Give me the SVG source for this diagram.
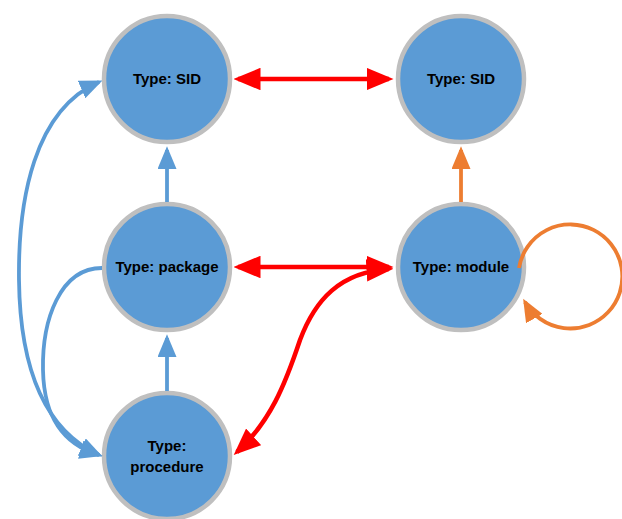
<svg xmlns="http://www.w3.org/2000/svg" width="622" height="519" viewBox="0 0 622 519">
<defs>
<marker id="ahr" viewBox="0 0 6 5" refX="5" refY="2.5" markerWidth="6" markerHeight="5" markerUnits="strokeWidth" orient="auto-start-reverse">
<path d="M0 0 L6 2.5 L0 5 Z" fill="#FF0000"/>
</marker>
<marker id="ahb" viewBox="0 0 6 5" refX="5" refY="2.5" markerWidth="6" markerHeight="5" markerUnits="strokeWidth" orient="auto-start-reverse">
<path d="M0 0 L6 2.5 L0 5 Z" fill="#5B9BD5"/>
</marker>
<marker id="aho" viewBox="0 0 6 5" refX="5" refY="2.5" markerWidth="6" markerHeight="5" markerUnits="strokeWidth" orient="auto-start-reverse">
<path d="M0 0 L6 2.5 L0 5 Z" fill="#ED7D31"/>
</marker>
</defs>
<style>
.node circle{fill:#5B9BD5;stroke:#BFBFBF;stroke-width:4.5}
.node text{font-family:"Liberation Sans",Arial,sans-serif;font-weight:bold;font-size:15px;fill:#000;text-anchor:middle}
.red{fill:none;stroke:#FF0000;stroke-width:4.5}
.blue{fill:none;stroke:#5B9BD5;stroke-width:3.8}
.orange{fill:none;stroke:#ED7D31;stroke-width:3.8}
</style>
<g id="nodes">
<g id="sid1" class="node"><circle cx="167" cy="79" r="63"/><text x="167" y="84">Type: SID</text></g>
<g id="sid2" class="node"><circle cx="461" cy="79" r="63"/><text x="461" y="84">Type: SID</text></g>
<g id="package" class="node"><circle cx="167" cy="267" r="63"/><text x="167" y="272">Type: package</text></g>
<g id="module" class="node"><circle cx="461" cy="267" r="63"/><text x="461" y="272">Type: module</text></g>
<g id="procedure" class="node"><circle cx="167" cy="456" r="63"/><text x="167" y="451">Type:</text><text x="167" y="472">procedure</text></g>
</g>
<g id="connectors">
<path class="red" d="M238 79 L389 79" marker-start="url(#ahr)" marker-end="url(#ahr)"/>
<path class="red" d="M238 267 L389 267" marker-start="url(#ahr)" marker-end="url(#ahr)"/>
<path class="red" d="M389 269 C340 272 315 300 300 340 C285 385 270 422 237 452" marker-start="url(#ahr)" marker-end="url(#ahr)"/>
<path class="blue" d="M167 202 L167 150" marker-end="url(#ahb)"/>
<path class="blue" d="M167 391 L167 338" marker-end="url(#ahb)"/>
<path class="orange" d="M461 202 L461 150" marker-end="url(#aho)"/>
<path class="orange" d="M519 268 A52 52 0 1 1 525 302" marker-end="url(#aho)"/>
<path class="blue" d="M99 82 C34 110 18 200 19 280 C20 370 45 430 99 455" marker-start="url(#ahb)" marker-end="url(#ahb)"/>
<path class="blue" d="M102 268 C60 268 42 320 43 370 C44 420 65 445 99 455" marker-end="url(#ahb)"/>
</g>
</svg>
